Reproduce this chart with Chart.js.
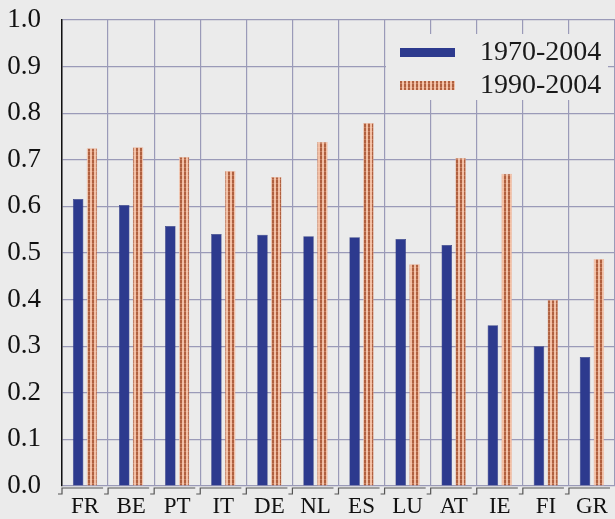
<!DOCTYPE html>
<html>
<head>
<meta charset="utf-8">
<script src="https://cdn.jsdelivr.net/npm/chart.js@4/dist/chart.umd.min.js"></script>
<style>
  html, body { margin: 0; padding: 0; background: #ebebeb; }
  #wrap { width: 615px; height: 519px; }
</style>
</head>
<body>
<div id="wrap"><canvas id="chart" width="615" height="519"></canvas></div>
<script>
// data
const countries = ['FR', 'BE', 'PT', 'IT', 'DE', 'NL', 'ES', 'LU', 'AT', 'IE', 'FI', 'GR'];
const share7004 = [0.616, 0.603, 0.558, 0.541, 0.539, 0.536, 0.534, 0.530, 0.517, 0.345, 0.300, 0.277];
const share9004 = [0.725, 0.727, 0.706, 0.676, 0.663, 0.738, 0.779, 0.476, 0.704, 0.670, 0.399, 0.487];
const yTicks = [0, 0.1, 0.2, 0.3, 0.4, 0.5, 0.6, 0.7, 0.8, 0.9, 1.0];

const blue = '#2d3a8e';
const serif = '"Liberation Serif", "DejaVu Serif", serif';

// striped fill for the second series
function stripePattern() {
    const c = document.createElement('canvas');
    c.width = 4;
    c.height = 4;
    const g = c.getContext('2d');
    g.fillStyle = '#f2bea3';
    g.fillRect(0, 0, 4, 4);
    g.fillStyle = '#b0603f';
    g.fillRect(0, 0, 2, 4);
    g.fillStyle = 'rgba(255,220,200,0.25)';
    g.fillRect(0, 3, 4, 1);
    return g.createPattern(c, 'repeat');
}
const stripes = stripePattern();

// step-shaped baseline under each category
const stepAxis = {
    id: 'stepAxis',
    afterDraw(chart) {
        const ctx = chart.ctx;
        const x = chart.scales.x;
        const y0 = chart.chartArea.bottom + 2;
        const step = x.width / countries.length;
        ctx.save();
        ctx.strokeStyle = '#555';
        ctx.lineWidth = 1.2;
        for (let i = 0; i < countries.length; i++) {
            const left = x.left + i * step;
            ctx.beginPath();
            ctx.moveTo(left - 4, y0 + 6);
            ctx.lineTo(left, y0 + 6);
            ctx.lineTo(left, y0);
            ctx.lineTo(left + step - 5, y0);
            ctx.stroke();
        }
        ctx.restore();
    }
};

// legend box inside the plot, upper right
const boxLegend = {
    id: 'boxLegend',
    afterDraw(chart) {
        const ctx = chart.ctx;
        const sets = chart.data.datasets;
        ctx.save();
        ctx.fillStyle = '#ebebeb';
        ctx.fillRect(386, 34, 222, 66);
        const rows = [52, 85];
        sets.forEach((ds, i) => {
            ctx.fillStyle = ds.backgroundColor;
            ctx.fillRect(400, rows[i] - 4, 55, 9);
            ctx.fillStyle = '#1a1a1a';
            ctx.font = '28px ' + serif;
            ctx.textBaseline = 'middle';
            ctx.textAlign = 'left';
            ctx.fillText(ds.label, 480, rows[i] + 1);
        });
        ctx.restore();
    }
};

new Chart(document.getElementById('chart'), {
    type: 'bar',
    data: {
        labels: countries,
        datasets: [{
            label: '1970-2004',
            data: share7004,
            backgroundColor: blue,
            borderColor: '#1e2870',
            borderWidth: 0.5,
        }, {
            label: '1990-2004',
            data: share9004,
            backgroundColor: stripes,
            borderColor: '#e9a88a',
            borderWidth: 0.5,
        }]
    },
    options: {
        responsive: false,
        animation: false,
        devicePixelRatio: 1,
        layout: { padding: { top: 20, right: 0, left: 0, bottom: 0 } },
        datasets: {
            bar: {
                categoryPercentage: 0.6,
                barPercentage: 0.76,
            }
        },
        plugins: {
            legend: { display: false },
            tooltip: { enabled: false },
        },
        scales: {
            x: {
                grid: {
                    color: '#9a9ab8',
                    lineWidth: 1.2,
                    drawTicks: false,
                    offset: true,
                },
                border: { display: false },
                ticks: {
                    color: '#111',
                    font: { family: serif, size: 23 },
                    padding: 7,
                    maxRotation: 0,
                },
                afterFit(scale) {
                    scale.height = 33;
                    scale.paddingLeft = 0;
                    scale.paddingRight = 0;
                },
            },
            y: {
                min: 0,
                max: 1,
                afterBuildTicks(scale) {
                    scale.ticks = yTicks.map(v => ({ value: v }));
                },
                grid: {
                    color: '#9a9ab8',
                    lineWidth: 1.2,
                    drawTicks: false,
                },
                border: { display: true, color: '#111', width: 1.5 },
                ticks: {
                    color: '#111',
                    font: { family: serif, size: 27 },
                    padding: 21,
                    callback: v => Number(v).toFixed(1),
                },
                afterFit(scale) {
                    scale.width = 62;
                    scale.paddingTop = 0;
                    scale.paddingBottom = 0;
                },
            }
        }
    },
    plugins: [stepAxis, boxLegend]
});
</script>
</body>
</html>
